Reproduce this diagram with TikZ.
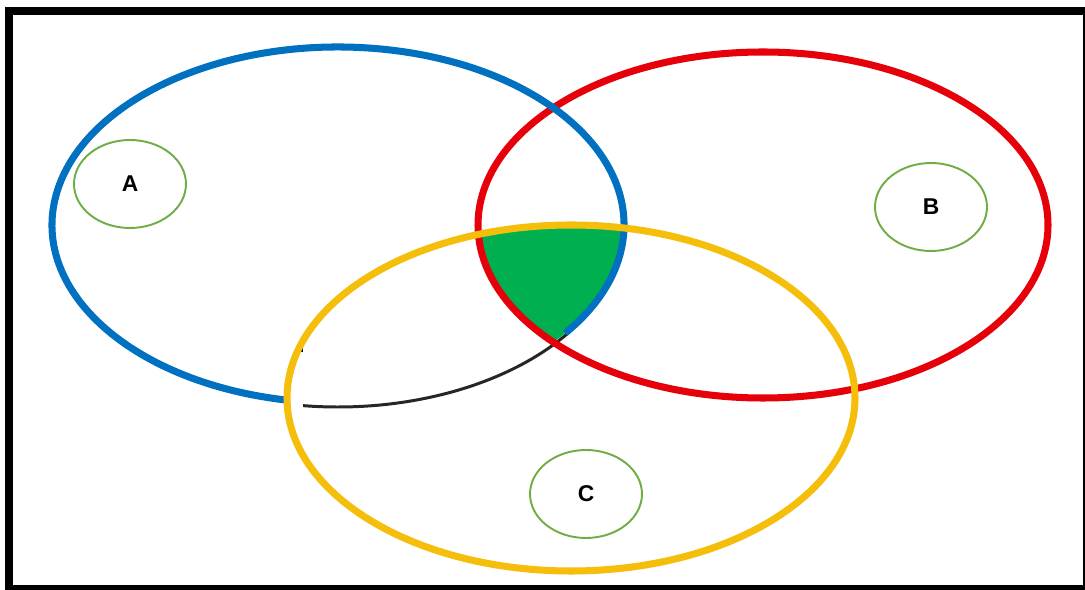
\documentclass[tikz,border=0pt]{standalone}
\usepackage{fontspec}
\setmainfont{Liberation Sans}
\usetikzlibrary{shapes.geometric}
\definecolor{cblue}{RGB}{0,112,192}
\definecolor{cred}{RGB}{230,0,10}
\definecolor{cyel}{RGB}{245,190,10}
\definecolor{cgreen}{RGB}{0,176,80}
\definecolor{clab}{RGB}{112,173,71}
\tikzset{
  setline/.style={line width=4pt},
  lab/.style={ellipse, draw=clab, line width=1.1pt, minimum width=2.24cm, minimum height=1.76cm, inner sep=0pt, font=\bfseries\fontsize{13}{15}\selectfont}
}
\begin{document}
\begin{tikzpicture}[x=0.02cm,y=-0.02cm]
\useasboundingbox (0,0) rectangle (1085,590);
% frame
\fill[black] (5,7) rectangle (1085,590);
\fill[white] (13,15) rectangle (1083,585);
\coordinate (A) at (338,225);
\coordinate (B) at (763,225);
\coordinate (C) at (571,398);
% triple intersection
\begin{scope}
  \clip (A) ellipse [x radius=286, y radius=178];
  \clip (B) ellipse [x radius=285, y radius=173];
  \fill[cgreen] (C) ellipse [x radius=284, y radius=173];
\end{scope}
% black arc (replaces part of A's outline inside C)
\draw[line width=1.7pt, black!85] (A) ++(36:286 and 182) arc[start angle=36, end angle=97, x radius=286, y radius=182];
\coordinate (t1) at (302,340);
\coordinate (t2) at (302,352);
\draw[line width=1.5pt] (t1) -- (t2);
% set outlines
\draw[setline, cred] (B) ellipse [x radius=285, y radius=173];
\draw[setline, cblue] (A) ++(99.8:286 and 178) arc[start angle=99.8, end angle=397.4, x radius=286, y radius=178];
\draw[setline, cyel] (C) ellipse [x radius=284, y radius=173];
% labels
\node[lab] (la) at (130,184) {A};
\node[lab] (lb) at (931,207) {B};
\node[lab] (lc) at (586,494) {C};
\end{tikzpicture}
\end{document}
